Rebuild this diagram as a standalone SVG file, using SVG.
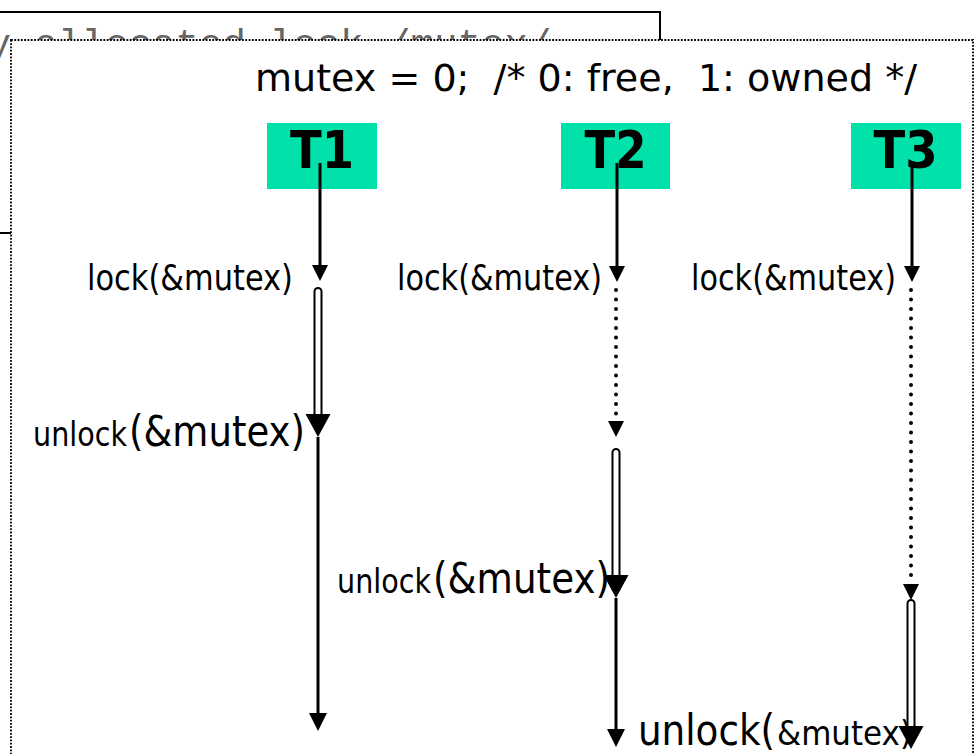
<svg xmlns="http://www.w3.org/2000/svg" width="975" height="754" viewBox="0 0 975 754">
<style>
.t{font-family:"DejaVu Sans","Liberation Sans",sans-serif;fill:#000}
.tb{font-family:"DejaVu Sans","Liberation Sans",sans-serif;font-weight:bold;fill:#000;text-anchor:middle}
.ln{stroke:#000;stroke-width:3;fill:none}
.dot{stroke:#000;stroke-width:4;stroke-linecap:round;stroke-dasharray:0 9.5;fill:none}
.dbl{fill:#fff;stroke:#000;stroke-width:2}
.box{fill:#00e2aa}
.ah{fill:#000}
</style>
<defs>
<path id="aS" d="M-8,-16 L8,-16 L0,0 Z"/>
<path id="aB" d="M-12.5,-23 L12.5,-23 L0,0 Z"/>
<path id="aE" d="M-9,-18 L9,-18 L0,0 Z"/>
</defs>
<rect width="975" height="754" fill="#fff"/>
<g id="background-slide">
<rect x="-5" y="12" width="665" height="221" fill="#fff" stroke="#000" stroke-width="2"/>
<text x="-12.5" y="56" font-family="'Liberation Mono',monospace" font-size="39" fill="#666" textLength="564" lengthAdjust="spacingAndGlyphs">y allocated lock /mutex/</text>
</g>
<rect id="frame" x="11" y="40" width="962" height="740" fill="#fff" stroke="#000" stroke-width="1.8" stroke-dasharray="1.8 1.5"/>
<g id="title">
<text class="t" x="255" y="91" font-size="38" textLength="662" lengthAdjust="spacingAndGlyphs" xml:space="preserve">mutex = 0;  /* 0: free,  1: owned */</text>
</g>
<g id="T1">
<rect class="box" x="267" y="123" width="110" height="66"/>
<text class="tb" x="322" y="168" font-size="52" textLength="64" lengthAdjust="spacingAndGlyphs">T1</text>
</g>
<g id="T2">
<rect class="box" x="561" y="123" width="109" height="66"/>
<text class="tb" x="615.5" y="168" font-size="52" textLength="62" lengthAdjust="spacingAndGlyphs">T2</text>
</g>
<g id="T3">
<rect class="box" x="851" y="123" width="110" height="66"/>
<text class="tb" x="905.5" y="168" font-size="52" textLength="64" lengthAdjust="spacingAndGlyphs">T3</text>
</g>
<g id="labels">
<text class="t" x="87" y="290" font-size="35" textLength="206" lengthAdjust="spacingAndGlyphs">lock(&amp;mutex)</text>
<text class="t" x="397" y="290" font-size="35" textLength="205" lengthAdjust="spacingAndGlyphs">lock(&amp;mutex)</text>
<text class="t" x="691" y="290" font-size="35" textLength="205" lengthAdjust="spacingAndGlyphs">lock(&amp;mutex)</text>
<text class="t" x="33" y="446" font-size="34" textLength="94" lengthAdjust="spacingAndGlyphs">unlock</text>
<text class="t" x="129" y="446" font-size="42" textLength="176" lengthAdjust="spacingAndGlyphs">(&amp;mutex)</text>
<text class="t" x="337" y="593" font-size="34" textLength="94" lengthAdjust="spacingAndGlyphs">unlock</text>
<text class="t" x="433" y="593" font-size="42" textLength="177" lengthAdjust="spacingAndGlyphs">(&amp;mutex)</text>
<text class="t" x="638" y="745" font-size="42" textLength="137" lengthAdjust="spacingAndGlyphs">unlock(</text>
<text class="t" x="777" y="745" font-size="34" textLength="135" lengthAdjust="spacingAndGlyphs">&amp;mutex)</text>
</g>
<g id="connectors">
<line class="ln" x1="320" y1="163" x2="320" y2="268"/>
<use href="#aS" class="ah" x="320" y="281"/>
<rect class="dbl" x="314.5" y="288" width="7" height="132" rx="3.5"/>
<use href="#aB" class="ah" x="318" y="437"/>
<line class="ln" x1="318" y1="437" x2="318" y2="716"/>
<use href="#aE" class="ah" x="318" y="731"/>

<line class="ln" x1="617" y1="163" x2="617" y2="268"/>
<use href="#aS" class="ah" x="617" y="282"/>
<line class="dot" x1="616" y1="290" x2="616" y2="416"/>
<use href="#aS" class="ah" x="616" y="437"/>
<rect class="dbl" x="612.5" y="449" width="7" height="132" rx="3.5"/>
<use href="#aB" class="ah" x="616" y="598"/>
<line class="ln" x1="616" y1="598" x2="616" y2="732"/>
<use href="#aE" class="ah" x="616" y="747"/>

<line class="ln" x1="912" y1="163" x2="912" y2="268"/>
<use href="#aS" class="ah" x="912" y="282"/>
<line class="dot" x1="911" y1="290" x2="911" y2="580"/>
<use href="#aS" class="ah" x="911" y="600"/>
<rect class="dbl" x="907.5" y="600" width="7" height="130" rx="3.5"/>
<use href="#aB" class="ah" x="911" y="749"/>
</g>
</svg>
